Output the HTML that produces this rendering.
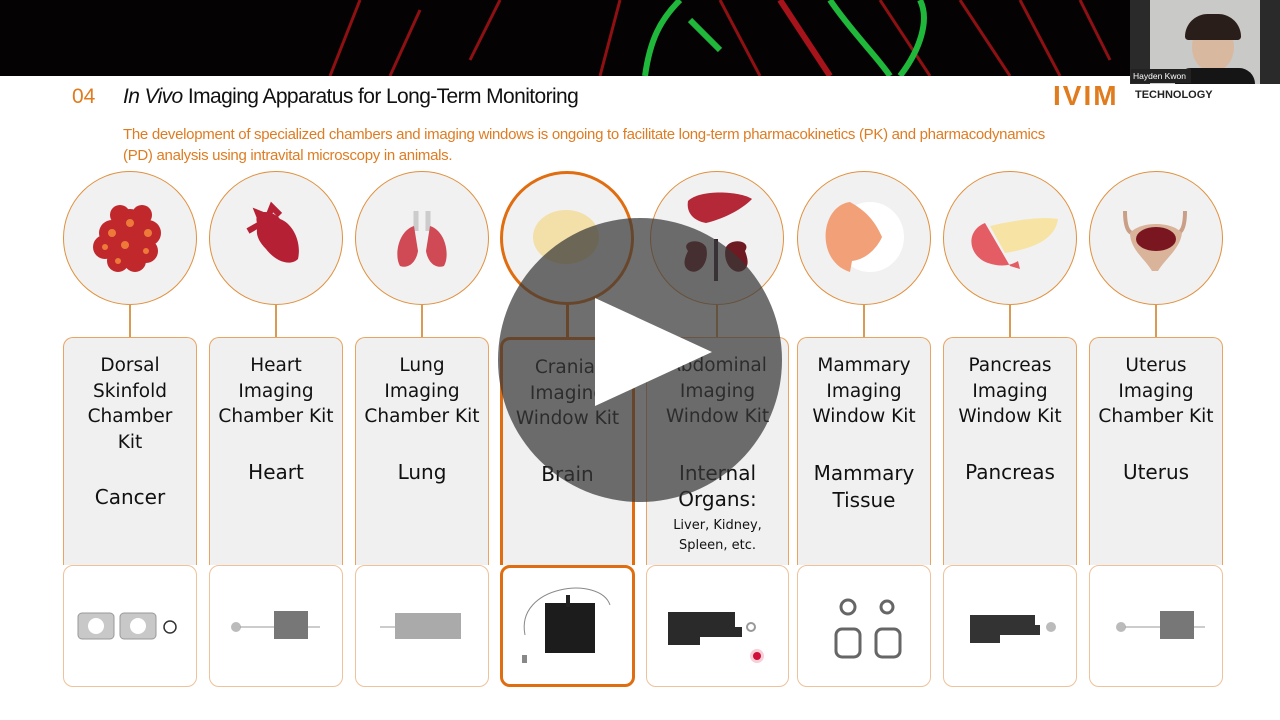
<!DOCTYPE html>
<html><head><meta charset="utf-8"><style>
*{margin:0;padding:0;box-sizing:border-box}
body{width:1280px;height:720px;overflow:hidden;background:#fff;position:relative;font-family:"DejaVu Sans","Liberation Sans",sans-serif}
.a{position:absolute}
.circ{position:absolute;top:171px;width:134px;height:134px;border-radius:50%;border:1.5px solid #e0913f;background:#f1f1f1}
.ln{position:absolute;top:304px;width:2px;height:34px;background:#d99a55}
.tb{position:absolute;top:337px;height:228px;border:1.5px solid #e8a460;border-bottom:none;border-radius:10px 10px 0 0;background:#f0f0f0;text-align:center;color:#111;font-size:18.5px;line-height:25.5px;padding-top:15px}
.bb{position:absolute;top:565px;height:122px;border:1.5px solid #eec29a;border-radius:10px;background:#fff}
.cat{font-size:20px;margin-top:30px}
.sm{font-size:13px;line-height:20px}
</style></head><body>
<!-- banner -->
<svg class="a" style="left:0;top:0" width="1280" height="76">
<rect width="1280" height="76" fill="#050203"/>
<g stroke="#b01418" stroke-width="3" fill="none" opacity="0.8">
<path d="M330 76 L360 0"/><path d="M390 76 L420 10"/><path d="M470 60 L500 0"/><path d="M600 76 L620 0"/>
<path d="M780 0 L830 76" stroke-width="6" stroke="#d01820"/><path d="M880 0 L930 76"/><path d="M960 0 L1010 76"/><path d="M1020 0 L1060 76"/><path d="M720 0 L760 76"/><path d="M1080 0 L1110 60"/>
</g>
<g stroke="#1fb83a" stroke-width="6" fill="none">
<path d="M645 76 C650 40 660 20 680 0"/><path d="M690 20 L720 50"/><path d="M830 0 C850 30 880 60 890 76"/><path d="M900 76 C920 50 930 20 920 0"/>
</g>
</svg>
<!-- webcam -->
<div class="a" style="left:1130px;top:0;width:150px;height:84px;background:#c9c9c7"></div>
<div class="a" style="left:1130px;top:0;width:20px;height:84px;background:#2a2a2a"></div>
<div class="a" style="left:1260px;top:0;width:20px;height:84px;background:#2a2a2a"></div>
<div class="a" style="left:1192px;top:22px;width:42px;height:50px;border-radius:50%;background:#d9b8a0"></div>
<div class="a" style="left:1185px;top:14px;width:56px;height:26px;border-radius:28px 28px 4px 4px;background:#2a1e1a"></div>
<div class="a" style="left:1175px;top:68px;width:80px;height:16px;border-radius:20px 20px 0 0;background:#151515"></div>
<div class="a" style="left:1131px;top:69px;width:60px;height:14px;background:#222;color:#fff;font:8.5px 'Liberation Sans',sans-serif;padding:2px 2px;white-space:nowrap">Hayden Kwon</div>
<!-- header -->
<div class="a" style="left:72px;top:85px;font:21px 'Liberation Sans',sans-serif;color:#e07b1e">04</div>
<div class="a" style="left:123px;top:85px;font:21px 'Liberation Sans',sans-serif;color:#111;letter-spacing:-0.6px;white-space:nowrap"><i>In Vivo</i> Imaging Apparatus for Long-Term Monitoring</div>
<div class="a" style="left:1053px;top:80px;font:bold 28px 'Liberation Sans',sans-serif;color:#e07b1e;letter-spacing:2px">IVIM</div>
<div class="a" style="left:1135px;top:89px;font:bold 11px 'Liberation Sans',sans-serif;color:#222">TECHNOLOGY</div>
<div class="a" style="left:123px;top:124px;width:1000px;font:15px/21px 'Liberation Sans',sans-serif;color:#de7c22;letter-spacing:-0.3px">The development of specialized chambers and imaging windows is ongoing to facilitate long-term pharmacokinetics (PK) and pharmacodynamics<br>(PD) analysis using intravital microscopy in animals.</div>

<!-- circles -->
<div class="circ" style="left:63px"></div>
<div class="circ" style="left:209px"></div>
<div class="circ" style="left:355px"></div>
<div class="circ" style="left:500px;border:3px solid #e06d10"></div>
<div class="circ" style="left:650px"></div>
<div class="circ" style="left:797px"></div>
<div class="circ" style="left:943px"></div>
<div class="circ" style="left:1089px"></div>
<!-- icons -->
<svg class="a" style="left:0;top:171px" width="1280" height="134">
<g fill="#c0282c"><circle cx="112" cy="62" r="13"/><circle cx="130" cy="52" r="14"/><circle cx="148" cy="62" r="13"/><circle cx="105" cy="76" r="12"/><circle cx="125" cy="74" r="14"/><circle cx="146" cy="80" r="12"/><circle cx="118" cy="90" r="11"/><circle cx="135" cy="90" r="11"/><circle cx="120" cy="44" r="10"/><circle cx="142" cy="44" r="10"/></g>
<g fill="#ee7a3a"><circle cx="112" cy="62" r="4"/><circle cx="130" cy="52" r="4"/><circle cx="148" cy="62" r="4"/><circle cx="125" cy="74" r="4"/><circle cx="146" cy="80" r="3"/><circle cx="118" cy="90" r="3"/><circle cx="105" cy="76" r="3"/></g>
<path d="M258 55 C250 35 275 40 280 48 C292 52 302 70 298 88 C290 96 275 90 266 78 C258 70 255 62 258 55Z" fill="#b52035"/>
<path d="M248 60 L262 52 L258 42 L268 46 L272 36 L280 44" stroke="#b52035" stroke-width="6" fill="none"/>
<path d="M416 40 L416 60 M428 40 L428 60" stroke="#ccc" stroke-width="5"/>
<path d="M414 55 C398 60 394 85 400 95 C408 98 416 92 418 80Z M430 55 C446 60 450 85 444 95 C436 98 428 92 426 80Z" fill="#d04a55"/>
<ellipse cx="566" cy="66" rx="33" ry="27" fill="#f3dfa8"/>
<path d="M688 30 C700 18 740 20 752 28 C740 40 722 48 706 52 C694 50 686 42 688 30Z" fill="#b42838"/>
<path d="M688 80 C680 70 700 66 706 76 C710 90 700 104 690 100 C682 96 684 88 688 80Z M745 80 C752 70 732 66 726 76 C722 90 732 104 742 100 C750 96 748 88 745 80Z" fill="#6e1a22"/>
<path d="M716 68 L716 110" stroke="#3a2030" stroke-width="4"/>
<ellipse cx="870" cy="66" rx="34" ry="35" fill="#fff"/>
<path d="M850 31 C820 35 815 90 850 101 L852 90 C868 88 878 75 882 66 C875 50 866 40 850 31Z" fill="#f2a078"/>
<path d="M990 55 C1010 50 1040 45 1058 48 C1055 70 1030 78 1005 82Z" fill="#f7e4a4"/>
<path d="M985 52 C965 60 968 85 988 92 C1000 96 1010 95 1018 90 L1020 98 L1010 95Z" fill="#e45d65"/>
<path d="M1125 40 C1125 60 1130 65 1140 62 M1185 40 C1185 60 1180 65 1170 62" stroke="#c99f88" stroke-width="4" fill="none"/>
<path d="M1130 62 C1140 50 1172 50 1182 62 C1180 78 1165 88 1158 100 L1152 100 C1145 88 1130 78 1130 62Z" fill="#d9b49a"/>
<ellipse cx="1156" cy="68" rx="20" ry="12" fill="#7a1620"/>
</svg>
<!-- connectors -->
<div class="ln" style="left:129px"></div>
<div class="ln" style="left:275px"></div>
<div class="ln" style="left:421px"></div>
<div class="ln" style="left:566px;width:3px;background:#e06d10"></div>
<div class="ln" style="left:716px"></div>
<div class="ln" style="left:863px"></div>
<div class="ln" style="left:1009px"></div>
<div class="ln" style="left:1155px"></div>
<!-- text boxes -->
<div class="tb" style="left:63px;width:134px">Dorsal<br>Skinfold<br>Chamber<br>Kit<div class="cat">Cancer</div></div>
<div class="tb" style="left:209px;width:134px">Heart<br>Imaging<br>Chamber Kit<div class="cat">Heart</div></div>
<div class="tb" style="left:355px;width:134px">Lung<br>Imaging<br>Chamber Kit<div class="cat">Lung</div></div>
<div class="tb" style="left:500px;width:135px;border:3px solid #e06d10;border-bottom:none">Cranial<br>Imaging<br>Window Kit<div class="cat">Brain</div></div>
<div class="tb" style="left:646px;width:143px">Abdominal<br>Imaging<br>Window Kit<div class="cat" style="line-height:26px">Internal<br>Organs:</div><div class="sm" style="margin-top:4px">Liver, Kidney,<br>Spleen, etc.</div></div>
<div class="tb" style="left:797px;width:134px">Mammary<br>Imaging<br>Window Kit<div class="cat" style="line-height:27px">Mammary<br>Tissue</div></div>
<div class="tb" style="left:943px;width:134px">Pancreas<br>Imaging<br>Window Kit<div class="cat">Pancreas</div></div>
<div class="tb" style="left:1089px;width:134px">Uterus<br>Imaging<br>Chamber Kit<div class="cat">Uterus</div></div>
<!-- bottom boxes -->
<div class="bb" style="left:63px;width:134px"></div>
<div class="bb" style="left:209px;width:134px"></div>
<div class="bb" style="left:355px;width:134px"></div>
<div class="bb" style="left:500px;width:135px;border:3px solid #e06d10"></div>
<div class="bb" style="left:646px;width:143px"></div>
<div class="bb" style="left:797px;width:134px"></div>
<div class="bb" style="left:943px;width:134px"></div>
<div class="bb" style="left:1089px;width:134px"></div>
<svg class="a" style="left:0;top:565px" width="1280" height="122">
<g fill="#c8c8c8" stroke="#999"><rect x="78" y="48" width="36" height="26" rx="4"/><rect x="120" y="48" width="36" height="26" rx="4"/></g>
<circle cx="96" cy="61" r="8" fill="#fff"/><circle cx="138" cy="61" r="8" fill="#fff"/>
<circle cx="170" cy="62" r="6" fill="none" stroke="#333" stroke-width="1.5"/>
<circle cx="236" cy="62" r="5" fill="#bbb"/><path d="M240 62 H320" stroke="#999"/><rect x="274" y="46" width="34" height="28" fill="#777"/>
<path d="M380 62 H460" stroke="#999"/><rect x="395" y="48" width="66" height="26" fill="#aaa"/>
<path d="M525 70 C515 20 600 10 610 40" stroke="#888" fill="none"/><rect x="545" y="38" width="50" height="50" fill="#1c1c1c"/><rect x="566" y="30" width="4" height="12" fill="#222"/>
<rect x="522" y="90" width="5" height="8" fill="#888"/>
<path d="M668 47 H735 V62 H742 V72 H700 V80 H668Z" fill="#2a2a2a"/><circle cx="751" cy="62" r="4" fill="none" stroke="#999" stroke-width="2"/>
<circle cx="757" cy="91" r="4" fill="#d0103a"/><circle cx="757" cy="91" r="7" fill="#d0103a" opacity="0.2"/>
<g fill="none" stroke="#666" stroke-width="3"><circle cx="848" cy="42" r="7"/><circle cx="887" cy="42" r="6"/><rect x="836" y="64" width="24" height="28" rx="6"/><rect x="876" y="64" width="24" height="28" rx="6"/></g>
<path d="M970 50 H1035 V60 H1040 V70 H1000 V78 H970Z" fill="#333"/><circle cx="1051" cy="62" r="5" fill="#bbb"/>
<circle cx="1121" cy="62" r="5" fill="#bbb"/><path d="M1125 62 H1205" stroke="#999"/><rect x="1160" y="46" width="34" height="28" fill="#777"/>
</svg>
<!-- play overlay -->
<svg class="a" style="left:0;top:0" width="1280" height="720">
<circle cx="640" cy="360" r="142" fill="rgb(55,55,55)" fill-opacity="0.72"/>
<polygon points="595,298 595,406 712,352" fill="#fff"/>
</svg>
</body></html>
